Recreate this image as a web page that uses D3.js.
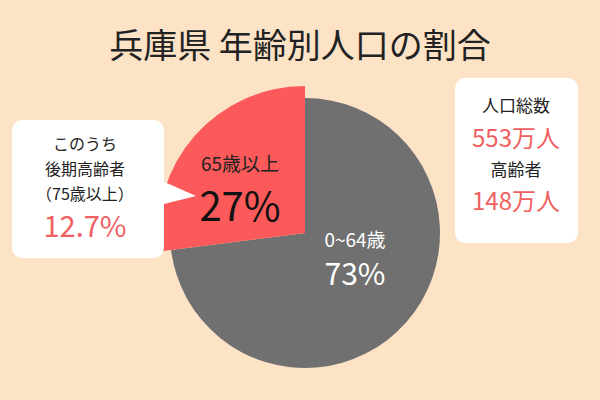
<!DOCTYPE html><html><head><meta charset="utf-8"><script src="https://cdn.jsdelivr.net/npm/d3@7"></script>
<style>body{margin:0;background:#fde3c6}</style></head><body><script>
const categories=["65歳以上","0~64歳"];
const values=[27,73];
const colors=["#fc5a5a","#707070"];
const rightLines=["人口総数","553万人","高齢者","148万人"];
const leftLines=["このうち","後期高齢者","（75歳以上）","12.7%"];
const F="'Noto Sans CJK JP'";
const svg=d3.select("body").append("svg").attr("width",600).attr("height",400).style("font-family",F);
svg.append("rect").attr("width",600).attr("height",400).attr("fill","#fde3c6");
svg.append("text").attr("x",300).attr("y",58).attr("text-anchor","middle").attr("font-size",34).attr("fill","#222").text("兵庫県 年齢別人口の割合");
const pie=d3.pie().sort(null).value(d=>d)(values);
const radii=[147,135];
const g=svg.append("g").attr("transform","translate(305,233)");
const fr=2*Math.PI*values[0]/d3.sum(values);
const angles=[[-fr,0],[0,2*Math.PI-fr]];
[1,0].forEach(i=>{
 g.append("path").attr("d",d3.arc().innerRadius(0).outerRadius(radii[i])({startAngle:angles[i][0],endAngle:angles[i][1]})).attr("fill",colors[i]);
});
g.append("text").attr("x",-65).attr("y",-62).attr("text-anchor","middle").attr("font-size",19).attr("fill","#222").text(categories[0]);
g.append("text").attr("x",-65).attr("y",-12).attr("text-anchor","middle").attr("font-size",40).attr("fill","#111").text(values[0]+"%");
g.append("text").attr("x",50).attr("y",14).attr("text-anchor","middle").attr("font-size",19).attr("fill","#fff").text(categories[1]);
g.append("text").attr("x",50).attr("y",52).attr("text-anchor","middle").attr("font-size",30).attr("fill","#fff").text(values[1]+"%");
svg.append("path").attr("d","M160,180 L196,196 L160,205 Z").attr("fill","#fff");
svg.append("rect").attr("x",12).attr("y",120).attr("width",152).attr("height",138).attr("rx",10).attr("fill","#fff");
const ly=[150,175,200,237],ls=[16,16,16,29];
leftLines.forEach((t,i)=>svg.append("text").attr("x",85).attr("y",ly[i]).attr("text-anchor","middle").attr("font-size",ls[i]).attr("fill",i===3?"#f06060":"#222").text(t));
svg.append("rect").attr("x",455).attr("y",78).attr("width",123).attr("height",165).attr("rx",10).attr("fill","#fff");
const ry=[112,147,176,210],rs=[17,24,17,24];
rightLines.forEach((t,i)=>svg.append("text").attr("x",516).attr("y",ry[i]).attr("text-anchor","middle").attr("font-size",rs[i]).attr("fill",i%2?"#f06060":"#222").text(t));
</script></body></html>
